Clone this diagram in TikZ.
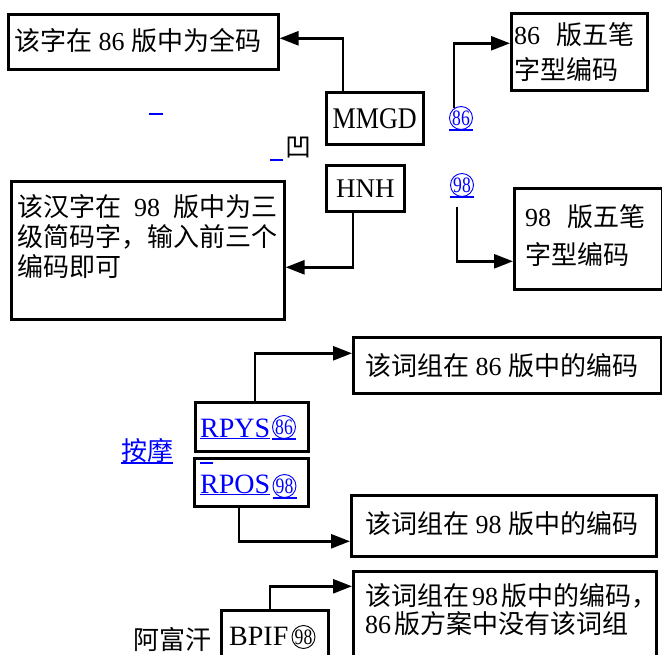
\documentclass[tikz,border=0pt]{standalone}
\usepackage{fontspec}
\setmainfont{Liberation Serif}
\newfontfamily\cjk{Noto Sans CJK SC}
\usetikzlibrary{arrows.meta,calc}
\newcommand\zh[1]{{\cjk #1}}
\definecolor{lnk}{RGB}{0,0,255}
\begin{document}
\begin{tikzpicture}[x=1pt,y=-1pt,
  box/.style={draw, line width=2.6pt, inner sep=0pt, anchor=north west, font=\fontsize{26}{30}\selectfont},
  conn/.style={line width=2.6pt, -{Triangle[length=19pt,width=14pt]}},
  txt/.style={inner sep=0pt, anchor=base west, font=\fontsize{26}{30}\selectfont},
  code/.style={inner sep=0pt, anchor=base west, font=\fontsize{28}{30}\selectfont},
  cnum/.style={circle, draw, line width=0.9pt, inner sep=0pt, minimum size=23pt, font=\fontsize{22}{22}\selectfont},
  ul/.style={lnk, line width=1.6pt}]
\useasboundingbox (0,0) rectangle (662,655);
\fill[white] (0,0) rectangle (662,655);
\clip (0,0) rectangle (662,655);

% ---------- upper part ----------
\node[box, minimum width=270pt, minimum height=55pt] (b1) at (7,13) {};
\node[txt] (t1) at (14,51) {\zh{该字在} 86 \zh{版中为全码}};

\node[box, minimum width=136pt, minimum height=77pt] (b86z) at (510,12) {};
\node[txt] (t86a) at (514,45) {86\hspace{16pt}\zh{版五笔}};
\node[txt] (t86b) at (514,80) {\zh{字型编码}};

\node[box, minimum width=97pt, minimum height=52pt, font=\fontsize{30}{30}\selectfont] (mmgd) at (325,91) {\scalebox{0.87}[1]{MMGD}};
\node[box, minimum width=78pt, minimum height=46pt, font=\fontsize{27}{30}\selectfont] (hnh) at (325,164) {HNH};

\node[box, minimum width=273pt, minimum height=138pt] (b2) at (10,180) {};
\node[txt] (t2a) at (17,217) {\makebox[260pt][s]{\zh{该汉字在} 98 \zh{版中为三}}};
\node[txt] (t2b) at (17,247) {\zh{级简码字，输入前三个}};
\node[txt] (t2c) at (17,277) {\zh{编码即可}};

\node[box, minimum width=148pt, minimum height=101pt] (b98z) at (513,187) {};
\node[txt] (t98a) at (525,227) {98\hspace{16pt}\zh{版五笔}};
\node[txt] (t98b) at (525,265) {\zh{字型编码}};

\draw[ul] (149,114) -- (163,114);
\draw[ul] (270,160) -- (283,160);
\node[txt] (ao) at (285,157) {\zh{凹}};

\node[cnum, lnk] (c86) at (461,118) {\scalebox{0.8}[1]{86}};
\draw[ul] ([xshift=-12pt]c86.south) -- ([xshift=12pt]c86.south);
\node[cnum, lnk] (c98) at (462,185) {\scalebox{0.8}[1]{98}};
\draw[ul] ([xshift=-12pt]c98.south) -- ([xshift=12pt]c98.south);

\coordinate (s86) at (454,108);
\coordinate (s98) at (457,207);
\draw[conn] ([xshift=18pt]mmgd.north west) |- ([yshift=3.5pt]b1.east);
\draw[conn] (s86) |- ([yshift=8.5pt]b86z.west);
\draw[conn] ([xshift=28pt]hnh.south west) |- ([yshift=-17pt]b2.east);
\draw[conn] (s98) |- ([yshift=-22.5pt]b98z.west);

% ---------- lower part ----------
\node[box, minimum width=308pt, minimum height=56pt] (b86w) at (352,336) {};
\node[txt] (t86w) at (365,375) {\zh{该词组在} 86 \zh{版中的编码}};

\node[box, minimum width=113pt, minimum height=49pt] (rpys) at (194,401) {};
\node[code, lnk] (trpys) at (200,437) {RPYS};
\draw[ul] ([yshift=-1.5pt]trpys.base west) -- ([yshift=-1.5pt]trpys.base east);
\node[cnum, lnk] (c86b) at (284,427) {\scalebox{0.8}[1]{86}};
\draw[ul] ([xshift=-12pt]c86b.south) -- ([xshift=12pt]c86b.south);

\node[box, minimum width=114pt, minimum height=48pt] (rpos) at (193,457) {};
\draw[ul] (200,463) -- (213,463);
\node[code, lnk] (trpos) at (200,493) {RPOS};
\draw[ul] ([yshift=-1.5pt]trpos.base west) -- ([yshift=-1.5pt]trpos.base east);
\node[cnum, lnk] (c98b) at (284.5,486) {\scalebox{0.8}[1]{98}};
\draw[ul] ([xshift=-12pt]c98b.south) -- ([xshift=12pt]c98b.south);

\node[txt, lnk] (am) at (121,460) {\zh{按摩}};
\draw[ul] ([yshift=-3pt]am.base west) -- ([yshift=-3pt]am.base east);

\node[box, minimum width=305pt, minimum height=61pt] (b98w) at (350,494) {};
\node[txt] (t98w) at (365,533) {\zh{该词组在} 98 \zh{版中的编码}};

\node[box, minimum width=303pt, minimum height=95pt] (b98n) at (352,570) {};
\node[txt] (t98na) at (365,605) {\zh{该词组在}\hspace{3pt}98\hspace{3pt}\zh{版中的编码，}};
\node[txt] (t98nb) at (365,633) {86\hspace{3pt}\zh{版方案中没有该词组}};

\node[box, minimum width=107pt, minimum height=56pt] (bpif) at (220,609) {};
\node[code] (tbpif) at (229,645) {BPIF};
\node[cnum, black] (c98c) at (303.5,637) {\scalebox{0.8}[1]{98}};
\node[txt] (afh) at (133,649) {\zh{阿富汗}};

\draw[conn] ([xshift=61pt]rpys.north west) |- ([yshift=12pt]b86w.west);
\draw[conn] ([xshift=46pt]rpos.south west) |- ([yshift=-15.5pt]b98w.west);
\draw[conn] ([xshift=50pt]bpif.north west) |- ([yshift=32.5pt]b98n.west);
\end{tikzpicture}
\end{document}
